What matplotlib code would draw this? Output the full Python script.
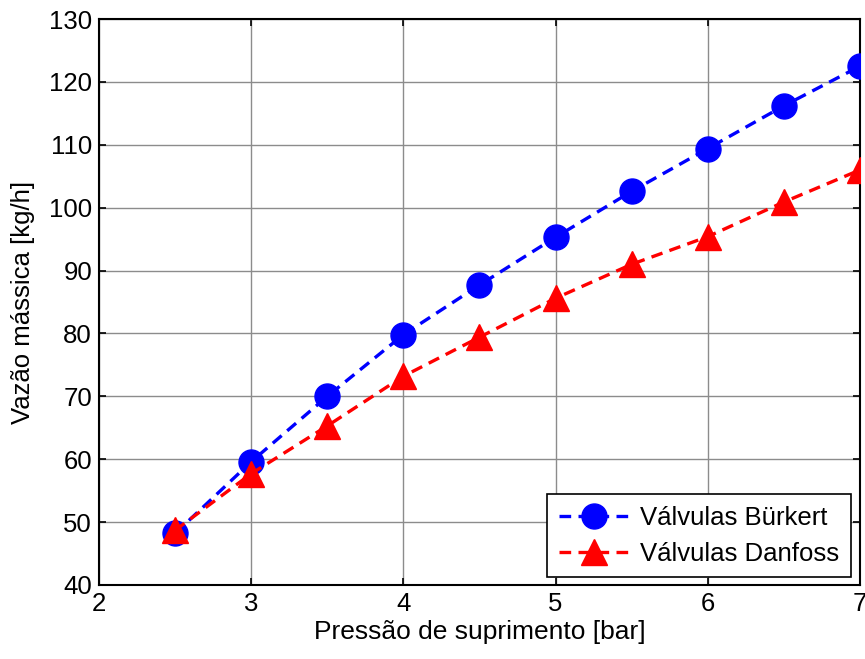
import numpy as np
import matplotlib
matplotlib.use('Agg')
import matplotlib.pyplot as plt

pressao = [2.5, 3.0, 3.5, 4.0, 4.5, 5.0, 5.5, 6.0, 6.5, 7.0]
burkert = [48.2, 59.6, 70.0, 79.8, 87.7, 95.3, 102.6, 109.4, 116.2, 122.5]
danfoss = [48.7, 57.7, 65.3, 73.2, 79.4, 85.6, 91.0, 95.4, 100.9, 106.0]

plt.rcParams['font.family'] = ['Liberation Sans', 'DejaVu Sans']

fig = plt.figure(figsize=(8.65, 6.59), dpi=100)
ax = fig.add_axes([0.1145, 0.1123, 0.8795, 0.8587])

ax.plot(pressao, burkert, '--', color='#0000ff', lw=2.4, dashes=(3.5, 2.2),
        marker='o', markersize=18, label='Válvulas Bürkert', zorder=3)
ax.plot(pressao, danfoss, '--', color='#ff0000', lw=2.4, dashes=(3.5, 2.2),
        marker='^', markersize=19, label='Válvulas Danfoss', zorder=4)

ax.set_xlim(2, 7)
ax.set_ylim(40, 130)
ax.set_xticks(np.arange(2, 8, 1))
ax.set_yticks(np.arange(40, 140, 10))
ax.grid(True, color='#8c8c8c', lw=1.0)
ax.set_axisbelow(True)
ax.tick_params(direction='in', top=True, right=True, labelsize=18.5, length=5, width=1.2, pad=5)
for s in ax.spines.values():
    s.set_linewidth(1.5)
    s.set_color('black')

ax.set_xlabel('Pressão de suprimento [bar]', fontsize=19, labelpad=3)
ax.set_ylabel('Vazão mássica [kg/h]', fontsize=18.5, labelpad=10)

leg = ax.legend(loc='lower right', fontsize=18.5, fancybox=False, edgecolor='black',
                framealpha=1, handlelength=2.7, borderpad=0.45, labelspacing=0.45,
                handletextpad=0.45, borderaxespad=0, bbox_to_anchor=(0.988, 0.014))
leg.get_frame().set_linewidth(1.2)

fig.savefig('out.png', dpi=100)
